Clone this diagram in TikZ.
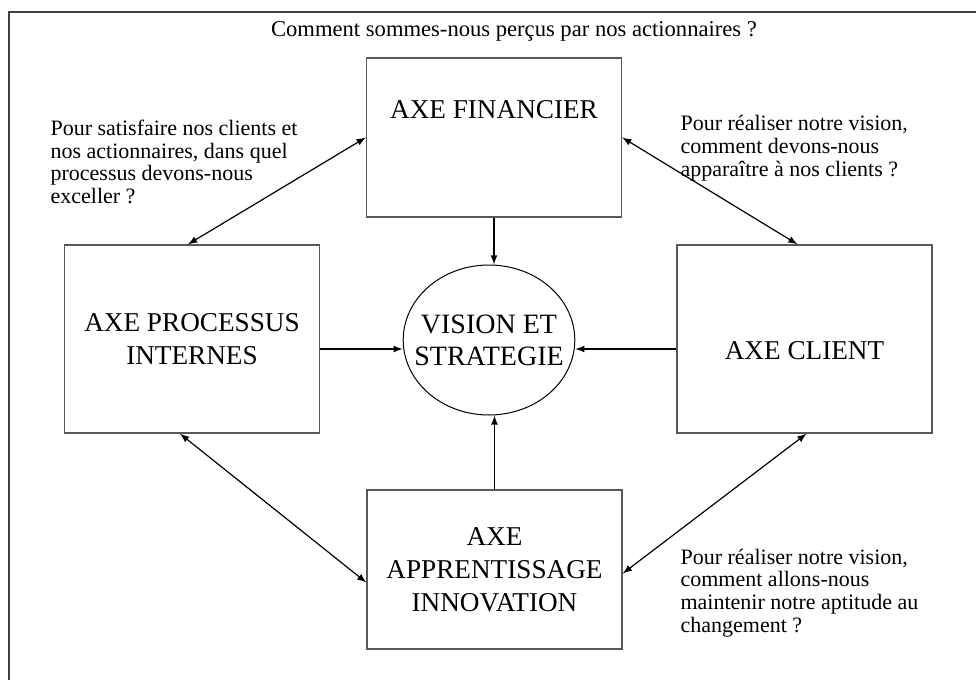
\documentclass[tikz,border=0pt]{standalone}
\usepackage{fontspec}
\setmainfont{Liberation Serif}
\usetikzlibrary{shapes.geometric}

\begin{document}
\begin{tikzpicture}[x=0.5pt, y=-0.5pt, line width=0.6pt,
      type-axe/.style={rectangle, draw=black!65, line width=0.7pt, inner sep=0pt, align=center, font=\fontsize{13.6}{16.5}\selectfont, minimum width=127.5pt},
      type-vision/.style={ellipse, draw, line width=0.5pt, inner xsep=-7pt, inner ysep=0pt, align=center, font=\fontsize{14}{16}\selectfont, minimum width=85pt, minimum height=75pt},
      type-question/.style={align=left, inner sep=0pt, font=\fontsize{11}{11.4}\selectfont}
    ]
      \clip (0,0) rectangle (976,680);
      \draw[black!75, line width=0.9pt] (9,12) rectangle (1000,720);

      \node[type-axe, text height=30pt, text depth=49.5pt] (fin) at (494,137.5) {AXE FINANCIER};
      \node[type-axe, minimum height=94pt] (proc) at (192,339) {AXE PROCESSUS\\INTERNES};
      \node[type-axe, text height=57pt, text depth=37pt] (cli) at (804.5,339) {AXE CLIENT};
      \node[type-axe, minimum height=79.5pt] (app) at (494.5,569.5) {AXE\\APPRENTISSAGE\\INNOVATION};
      \node[type-vision] (vis) at (489,340) {VISION ET\\STRATEGIE};

      \node[type-question, font=\fontsize{11.3}{12}\selectfont] (q-top) at (514,31) {Comment sommes-nous perçus par nos actionnaires ?};
      \node[type-question, anchor=west] (q-proc) at (50,162) {Pour satisfaire nos clients et\\nos actionnaires, dans quel\\processus devons-nous\\exceller ?};
      \node[type-question, anchor=west] (q-cli) at (680,148) {Pour réaliser notre vision,\\comment devons-nous\\apparaître à nos clients ?};
      \node[type-question, anchor=west] (q-app) at (680,593) {Pour réaliser notre vision,\\comment allons-nous\\maintenir notre aptitude au\\changement ?};

      % vers la vision
      \draw[-latex] (fin.south) -- (fin.south |- vis.north);
      \draw[-latex] (app.north) -- (app.north |- vis.south);
      \draw[-latex] ([yshift=-5pt]proc.east) -- ([yshift=-5pt]proc.east -| vis.west);
      \draw[-latex] ([yshift=-5pt]cli.west) -- ([yshift=-5pt]cli.west -| vis.east);

      % entre les axes
      \draw[latex-latex] (fin.west) -- ([xshift=-2pt]proc.north);
      \draw[latex-latex] (fin.east) -- ([xshift=-3.5pt]cli.north);
      \draw[latex-latex] ([xshift=-6pt]proc.south) -- ([yshift=-6.5pt]app.west);
      \draw[latex-latex] ([xshift=1pt]cli.south) -- ([yshift=-2pt]app.east);
    \end{tikzpicture}
\end{document}
